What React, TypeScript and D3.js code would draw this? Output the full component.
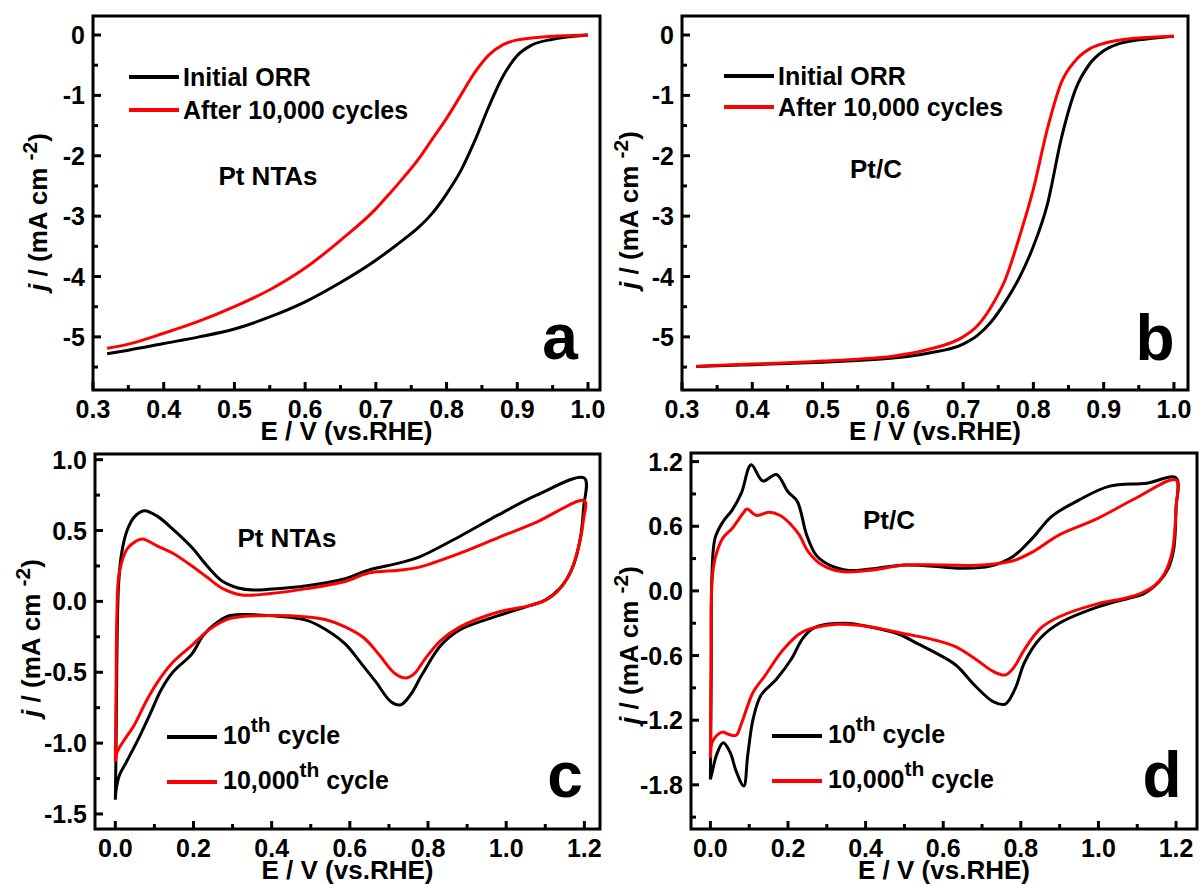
import * as d3 from "d3";

const FONT = "'Liberation Sans', Arial, Helvetica, sans-serif";
const RED = "#ff0000";

// ---- ORR polarization curves (panels a, b) ----
const orrE = [0.32, 0.35, 0.4, 0.45, 0.5, 0.55, 0.6, 0.65, 0.7, 0.72, 0.74, 0.76, 0.78, 0.8, 0.82, 0.84, 0.86, 0.88, 0.9, 0.92, 0.95, 0.98, 1.0];
const ntaInitial = [-5.28, -5.22, -5.11, -5.0, -4.87, -4.67, -4.42, -4.1, -3.73, -3.56, -3.38, -3.19, -2.95, -2.63, -2.25, -1.75, -1.18, -0.68, -0.34, -0.17, -0.07, -0.02, 0];
const ntaAfter = [-5.19, -5.12, -4.94, -4.74, -4.5, -4.22, -3.86, -3.4, -2.88, -2.62, -2.35, -2.06, -1.72, -1.38, -1.0, -0.62, -0.33, -0.16, -0.08, -0.05, -0.02, -0.01, 0];
const ptcInitial = [-5.49, -5.48, -5.46, -5.44, -5.42, -5.39, -5.35, -5.27, -5.12, -4.98, -4.75, -4.42, -4.02, -3.5, -2.8, -1.7, -0.9, -0.48, -0.26, -0.15, -0.08, -0.04, -0.02];
const ptcAfter = [-5.49, -5.47, -5.45, -5.43, -5.4, -5.37, -5.32, -5.21, -5.0, -4.82, -4.5, -4.05, -3.35, -2.55, -1.55, -0.78, -0.42, -0.23, -0.14, -0.09, -0.05, -0.03, -0.02];

// ---- CV loops (panels c, d): E then j, going anodic then back cathodic ----
const ntaCv10E = [0, 0.002, 0.004, 0.008, 0.015, 0.03, 0.05, 0.074, 0.108, 0.147, 0.196, 0.235, 0.275, 0.314, 0.353, 0.392, 0.49, 0.588, 0.647, 0.725, 0.775, 0.882, 0.98, 1.078, 1.2,
  1.198, 1.19, 1.17, 1.14, 1.1, 1.06, 0.98, 0.882, 0.833, 0.784, 0.755, 0.73, 0.706, 0.667, 0.627, 0.588, 0.539, 0.49, 0.392, 0.294, 0.255, 0.225, 0.196, 0.147, 0.118, 0.088, 0.059, 0.029, 0.01, 0.002, 0];
const ntaCv10J = [-1.4, -1.0, -0.4, 0.1, 0.32, 0.5, 0.6, 0.64, 0.6, 0.51, 0.38, 0.25, 0.14, 0.095, 0.08, 0.085, 0.11, 0.16, 0.22, 0.27, 0.31, 0.46, 0.61, 0.75, 0.87,
  0.66, 0.45, 0.24, 0.1, 0.01, -0.03, -0.1, -0.2, -0.31, -0.52, -0.66, -0.73, -0.71, -0.57, -0.43, -0.3, -0.2, -0.134, -0.1, -0.1, -0.16, -0.24, -0.37, -0.5, -0.62, -0.8, -0.97, -1.13, -1.23, -1.33, -1.4];
const ntaCv10kE = [0, 0.002, 0.004, 0.01, 0.03, 0.05, 0.069, 0.108, 0.147, 0.196, 0.235, 0.275, 0.324, 0.392, 0.49, 0.588, 0.647, 0.725, 0.775, 0.882, 0.98, 1.078, 1.2,
  1.198, 1.185, 1.16, 1.13, 1.1, 1.06, 0.98, 0.882, 0.833, 0.794, 0.765, 0.745, 0.716, 0.676, 0.637, 0.588, 0.539, 0.49, 0.392, 0.294, 0.245, 0.196, 0.147, 0.108, 0.078, 0.049, 0.02, 0.005, 0];
const ntaCv10kJ = [-1.13, -0.6, -0.1, 0.2, 0.37, 0.42, 0.44, 0.39, 0.34, 0.25, 0.17, 0.09, 0.045, 0.054, 0.09, 0.14, 0.2, 0.22, 0.24, 0.34, 0.45, 0.56, 0.71,
  0.58, 0.38, 0.18, 0.066, 0.007, -0.03, -0.075, -0.18, -0.275, -0.4, -0.51, -0.54, -0.51, -0.38, -0.26, -0.18, -0.13, -0.11, -0.1, -0.12, -0.19, -0.31, -0.43, -0.57, -0.71, -0.87, -0.99, -1.06, -1.13];

const ptcCv10E = [0, 0.002, 0.004, 0.012, 0.032, 0.056, 0.08, 0.105, 0.135, 0.17, 0.2, 0.224, 0.248, 0.273, 0.307, 0.357, 0.406, 0.504, 0.603, 0.652, 0.721, 0.78, 0.83, 0.879, 0.948, 1.027, 1.125, 1.2,
  1.2, 1.194, 1.18, 1.155, 1.115, 1.076, 0.997, 0.899, 0.85, 0.81, 0.785, 0.76, 0.73, 0.682, 0.633, 0.583, 0.534, 0.485, 0.406, 0.347, 0.268, 0.238, 0.209, 0.17, 0.13, 0.11, 0.096, 0.086, 0.066, 0.051, 0.033, 0.017, 0.004, 0];
const ptcCv10J = [-1.75, -0.8, 0.15, 0.49, 0.64, 0.75, 0.91, 1.17, 1.02, 1.08, 0.92, 0.83, 0.52, 0.33, 0.24, 0.19, 0.2, 0.24, 0.22, 0.21, 0.23, 0.32, 0.49, 0.69, 0.84, 0.97, 1.0, 1.05,
  0.77, 0.39, 0.21, 0.08, -0.03, -0.07, -0.15, -0.3, -0.44, -0.66, -0.91, -1.05, -1.03, -0.88, -0.69, -0.58, -0.49, -0.4, -0.33, -0.3, -0.34, -0.44, -0.63, -0.82, -0.97, -1.19, -1.53, -1.81, -1.67, -1.5, -1.41, -1.51, -1.69, -1.75];
const ptcCv10kE = [0, 0.002, 0.004, 0.012, 0.032, 0.056, 0.086, 0.094, 0.12, 0.15, 0.18, 0.209, 0.229, 0.253, 0.288, 0.337, 0.406, 0.504, 0.603, 0.701, 0.78, 0.83, 0.899, 0.997, 1.096, 1.2,
  1.2, 1.19, 1.17, 1.145, 1.105, 1.066, 0.997, 0.899, 0.85, 0.81, 0.78, 0.76, 0.73, 0.682, 0.633, 0.583, 0.504, 0.406, 0.327, 0.238, 0.189, 0.14, 0.11, 0.081, 0.066, 0.046, 0.032, 0.017, 0.004, 0];
const ptcCv10kJ = [-1.55, -0.6, 0.08, 0.3, 0.49, 0.58, 0.73, 0.76, 0.7, 0.73, 0.7, 0.61, 0.52, 0.36, 0.24, 0.18, 0.19, 0.24, 0.24, 0.24, 0.28, 0.36, 0.52, 0.67, 0.86, 1.03,
  0.77, 0.36, 0.16, 0.05, -0.03, -0.07, -0.12, -0.24, -0.35, -0.54, -0.72, -0.78, -0.75, -0.63, -0.52, -0.46, -0.4, -0.33, -0.31, -0.38, -0.54, -0.79, -0.94, -1.22, -1.34, -1.33, -1.31, -1.34, -1.41, -1.55];

// ---- ticks ----
const orrXTicks = [0.3, 0.4, 0.5, 0.6, 0.7, 0.8, 0.9, 1.0];
const orrXMinor = [0.35, 0.45, 0.55, 0.65, 0.75, 0.85, 0.95];
const orrYTicks = [0, -1, -2, -3, -4, -5];
const orrYMinor = [-0.5, -1.5, -2.5, -3.5, -4.5, -5.5];
const cvXTicks = [0, 0.2, 0.4, 0.6, 0.8, 1.0, 1.2];
const cvXMinor = [0.1, 0.3, 0.5, 0.7, 0.9, 1.1];
const ntaCvYTicks = [1.0, 0.5, 0.0, -0.5, -1.0, -1.5];
const ntaCvYMinor = [0.75, 0.25, -0.25, -0.75, -1.25];
const ptcCvYTicks = [1.2, 0.6, 0.0, -0.6, -1.2, -1.8];
const ptcCvYMinor = [0.9, 0.3, -0.3, -0.9, -1.5, -2.1];

const legendOrr = ["Initial ORR", "After 10,000 cycles"];
const legendCv = ["10", "10,000"];

type Box = { left: number; top: number; right: number; bottom: number };

function zip(xs: number[], ys: number[]): [number, number][] {
  return xs.map((v, i) => [v, ys[i]]);
}

function Panel(props: any) {
  const { box, xDomain, yDomain, xTicks, xMinor, yTicks, yMinor, fmtX, fmtY, series, curve,
    yLabel, sample, letter, legend } = props;
  const b: Box = box;
  const x = d3.scaleLinear().domain(xDomain).range([b.left, b.right]);
  const y = d3.scaleLinear().domain(yDomain).range([b.bottom, b.top]);
  const line = d3.line<[number, number]>().x((d) => x(d[0])).y((d) => y(d[1])).curve(curve);

  return (
    <g fontFamily={FONT} fontWeight="bold">
      {series.map((s: any, i: number) => (
        <path key={i} d={line(s.points) || ""} fill="none" stroke={s.color} strokeWidth={3} strokeLinejoin="round" />
      ))}
      <rect x={b.left} y={b.top} width={b.right - b.left} height={b.bottom - b.top} fill="none" stroke="#000" strokeWidth={3} />
      {xTicks.map((t: number) => (
        <g key={"x" + t}>
          <line x1={x(t)} x2={x(t)} y1={b.bottom} y2={b.bottom - 8} stroke="#000" strokeWidth={3} />
          <text x={x(t)} y={b.bottom + 28} textAnchor="middle" fontSize={25}>{fmtX(t)}</text>
        </g>
      ))}
      {xMinor.map((t: number) => (
        <line key={"xm" + t} x1={x(t)} x2={x(t)} y1={b.bottom} y2={b.bottom - 5} stroke="#000" strokeWidth={3} />
      ))}
      {yTicks.map((t: number) => (
        <g key={"y" + t}>
          <line x1={b.left} x2={b.left + 8} y1={y(t)} y2={y(t)} stroke="#000" strokeWidth={3} />
          <text x={b.left - 8} y={y(t) + 9} textAnchor="end" fontSize={25}>{fmtY(t)}</text>
        </g>
      ))}
      {yMinor.map((t: number) => (
        <line key={"ym" + t} x1={b.left} x2={b.left + 5} y1={y(t)} y2={y(t)} stroke="#000" strokeWidth={3} />
      ))}
      <text x={(b.left + b.right) / 2} y={b.bottom + 50} textAnchor="middle" fontSize={26}>E / V (vs.RHE)</text>
      <text transform={`translate(${yLabel[0]},${yLabel[1]}) rotate(-90)`} textAnchor="middle" fontSize={26}>
        <tspan fontStyle="italic">j</tspan>
        {" / (mA cm "}
        <tspan dy={-10} fontSize={21}>-2</tspan>
        <tspan dy={10}>)</tspan>
      </text>
      <text x={sample.x} y={sample.y} textAnchor="middle" fontSize={26}>{sample.text}</text>
      <text x={letter.x} y={letter.y} textAnchor="middle" fontSize={64}>{letter.text}</text>
      {legend.rows.map((r: any, i: number) => (
        <g key={"l" + i}>
          <line x1={legend.x} x2={legend.x + 50} y1={r.y} y2={r.y} stroke={series[i].color} strokeWidth={4} />
          {legend.cv ? (
            <text x={legend.x + 56} y={r.y + 7} fontSize={25}>
              {r.text}
              <tspan dy={-12} fontSize={21}>th</tspan>
              <tspan dy={12}>{" cycle"}</tspan>
            </text>
          ) : (
            <text x={legend.x + 54} y={r.y + 9} fontSize={25}>{r.text}</text>
          )}
        </g>
      ))}
    </g>
  );
}

export default function App() {
  const orrCurve = d3.curveMonotoneX;
  const cvCurve = d3.curveCatmullRom.alpha(0.5);
  const f1 = (v: number) => v.toFixed(1);
  const f0 = (v: number) => String(v);

  return (
    <svg width={1201} height={884} style={{ position: "absolute", left: 0, top: 0, background: "#fff" }}>
      <Panel
        box={{ left: 93, top: 16, right: 600, bottom: 390 }}
        xDomain={[0.3, 1.017]} yDomain={[-5.88, 0.315]}
        xTicks={orrXTicks} xMinor={orrXMinor} yTicks={orrYTicks} yMinor={orrYMinor}
        fmtX={f1} fmtY={f0} curve={orrCurve}
        series={[{ color: "#000", points: zip(orrE, ntaInitial) }, { color: RED, points: zip(orrE, ntaAfter) }]}
        yLabel={[47, 212]}
        sample={{ x: 268, y: 185, text: "Pt NTAs" }}
        letter={{ x: 560, y: 359, text: "a" }}
        legend={{ x: 129, cv: false, rows: [{ y: 77, text: legendOrr[0] }, { y: 110, text: legendOrr[1] }] }}
      />
      <Panel
        box={{ left: 682, top: 16, right: 1188, bottom: 390 }}
        xDomain={[0.3, 1.02]} yDomain={[-5.88, 0.315]}
        xTicks={orrXTicks} xMinor={orrXMinor} yTicks={orrYTicks} yMinor={orrYMinor}
        fmtX={f1} fmtY={f0} curve={orrCurve}
        series={[{ color: "#000", points: zip(orrE, ptcInitial) }, { color: RED, points: zip(orrE, ptcAfter) }]}
        yLabel={[638, 210]}
        sample={{ x: 876, y: 178, text: "Pt/C" }}
        letter={{ x: 1155, y: 360, text: "b" }}
        legend={{ x: 724, cv: false, rows: [{ y: 76, text: legendOrr[0] }, { y: 107, text: legendOrr[1] }] }}
      />
      <Panel
        box={{ left: 95, top: 454, right: 600, bottom: 829 }}
        xDomain={[-0.052, 1.24]} yDomain={[-1.606, 1.04]}
        xTicks={cvXTicks} xMinor={cvXMinor} yTicks={ntaCvYTicks} yMinor={ntaCvYMinor}
        fmtX={f1} fmtY={f1} curve={cvCurve}
        series={[{ color: "#000", points: zip(ntaCv10E, ntaCv10J) }, { color: RED, points: zip(ntaCv10kE, ntaCv10kJ) }]}
        yLabel={[40, 638]}
        sample={{ x: 287, y: 547, text: "Pt NTAs" }}
        letter={{ x: 565, y: 797, text: "c" }}
        legend={{ x: 167, cv: true, rows: [{ y: 737, text: legendCv[0] }, { y: 782, text: legendCv[1] }] }}
      />
      <Panel
        box={{ left: 691, top: 453, right: 1197, bottom: 829 }}
        xDomain={[-0.05, 1.254]} yDomain={[-2.21, 1.28]}
        xTicks={cvXTicks} xMinor={cvXMinor} yTicks={ptcCvYTicks} yMinor={ptcCvYMinor}
        fmtX={f1} fmtY={f1} curve={cvCurve}
        series={[{ color: "#000", points: zip(ptcCv10E, ptcCv10J) }, { color: RED, points: zip(ptcCv10kE, ptcCv10kJ) }]}
        yLabel={[638, 645]}
        sample={{ x: 889, y: 529, text: "Pt/C" }}
        letter={{ x: 1162, y: 797, text: "d" }}
        legend={{ x: 772, cv: true, rows: [{ y: 736, text: legendCv[0] }, { y: 781, text: legendCv[1] }] }}
      />
    </svg>
  );
}
